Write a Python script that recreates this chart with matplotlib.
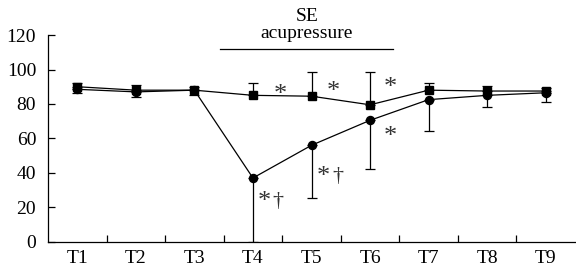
import matplotlib
matplotlib.use("Agg")
import matplotlib.pyplot as plt
import numpy as np

categories = ["T1", "T2", "T3", "T4", "T5", "T6", "T7", "T8", "T9"]
square_vals = [90, 88, 88, 85, 84.5, 79.5, 88, 87.5, 87.5]
square_err_up = [2, 3, 2, 7, 14, 19, 4, 3, 2]
circle_vals = [88.5, 87, 88, 37, 56, 70.5, 82.5, 85, 86.5]
circle_err_down = [2, 3, 3, 37, 30.5, 28.5, 18, 7, 5.5]
yticks = [0, 20, 40, 60, 80, 100, 120]

plt.rcParams['font.family'] = ['Liberation Serif', 'DejaVu Serif']

fig = plt.figure(figsize=(5.76, 2.75), dpi=100)
ax = fig.add_axes([0.0833, 0.121, 0.915, 0.7515])
x = np.arange(len(categories))

ax.errorbar(x, square_vals, yerr=[np.zeros(len(x)), square_err_up], fmt='s-', color='black',
            ms=5.8, lw=0.9, elinewidth=0.9, capsize=3.3, capthick=0.9, zorder=3)
ax.errorbar(x, circle_vals, yerr=[circle_err_down, np.zeros(len(x))], fmt='o-', color='black',
            ms=5.8, lw=0.9, elinewidth=0.9, capsize=3.3, capthick=0.9, zorder=3)

ax.set_xlim(-0.5, 8.5)
ax.set_ylim(0, 120)
ax.set_yticks(yticks)
ax.set_xticks(x)
ax.set_xticklabels(categories)
ax.set_xticks(np.arange(0.5, 8.5, 1), minor=True)
ax.tick_params(axis='x', which='major', length=0, labelsize=14, pad=6)
ax.tick_params(axis='x', which='minor', direction='in', length=5, width=0.9)
ax.tick_params(axis='y', direction='in', length=5, width=0.9, labelsize=14, pad=8.5)
for s in ['top', 'right']:
    ax.spines[s].set_visible(False)
for s in ['left', 'bottom']:
    ax.spines[s].set_linewidth(0.9)

fs = 14
star_kw = dict(fontsize=19, ha='center', va='baseline', color='#333333')
dag_kw = dict(fontsize=16, ha='center', va='baseline', color='#333333')
so = 7.5   # star baseline offset (data units)
do = 6.0   # dagger baseline offset
ax.text(3.46, 89 - so, "*", **star_kw)
ax.text(4.38, 91 - so, "*", **star_kw)
ax.text(5.34, 93 - so, "*", **star_kw)
ax.text(5.34, 65 - so, "*", **star_kw)
ax.text(3.2, 27 - so, "*", **star_kw)
ax.text(3.42, 27 - do, "†", **dag_kw)
ax.text(4.2, 41.5 - so, "*", **star_kw)
ax.text(4.45, 41.5 - do, "†", **dag_kw)

ax.plot([2.43, 5.39], [112, 112], color='black', lw=0.9, clip_on=False)
ax.text(3.92, 121, "acupressure", fontsize=fs, ha='center', va='center', clip_on=False)
ax.text(3.92, 131, "SE", fontsize=fs, ha='center', va='center', clip_on=False)

fig.savefig("out.png", dpi=100)
